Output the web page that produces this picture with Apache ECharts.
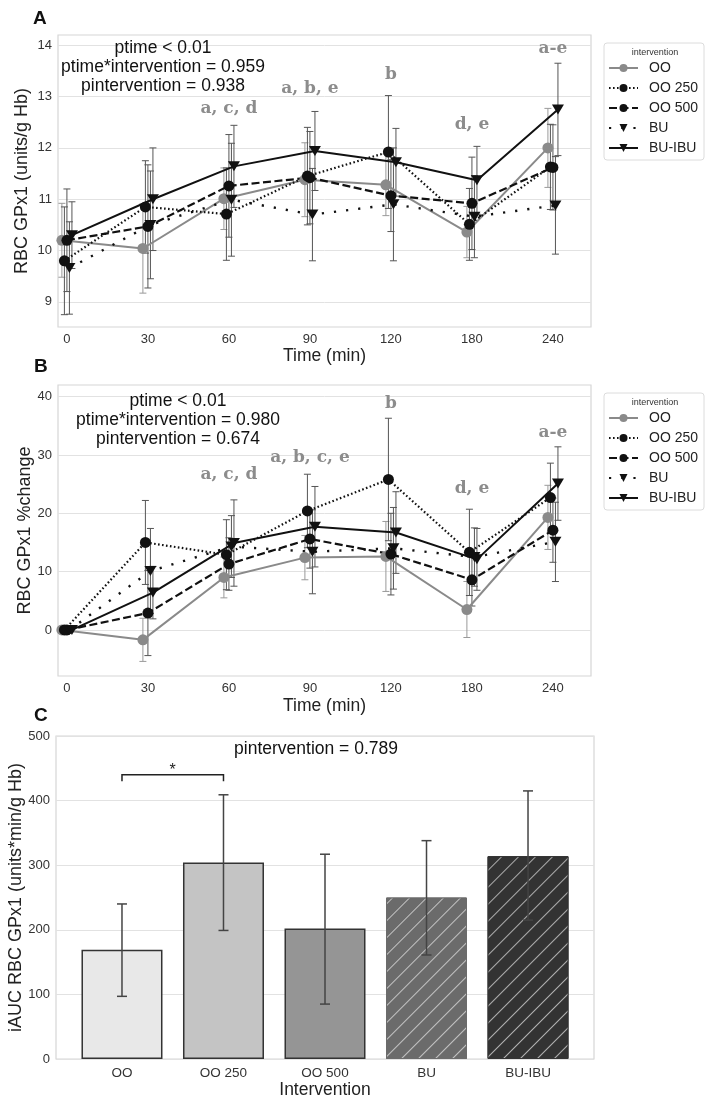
<!DOCTYPE html>
<html><head><meta charset="utf-8">
<script src="https://cdn.jsdelivr.net/npm/echarts@6/dist/echarts.min.js"></script>
<style>html,body{margin:0;padding:0;background:#fff}#c{width:709px;height:1104px}</style>
</head><body><div id="c"></div>
<script>
// ---------------- DATA ----------------
const times = ['0', '30', '60', '90', '120', '180', '240'];
const groups = ['OO', 'OO 250', 'OO 500', 'BU', 'BU-IBU'];

// Panel A: RBC GPx1 (units/g Hb) means and error half-widths
const aOO     = [10.20, 10.04, 11.01, 11.38, 11.28, 10.36, 12.00];
const aOO250  = [9.80, 10.85, 10.71, 11.45, 11.92, 10.51, 11.63];
const aOO500  = [10.20, 10.47, 11.26, 11.42, 11.07, 10.92, 11.62];
const aBU     = [9.66, 10.50, 10.99, 10.70, 10.90, 10.66, 10.88];
const aBUIBU  = [10.30, 11.00, 11.64, 11.94, 11.72, 11.37, 12.75];
const aErrOO    = [0.72, 0.87, 0.60, 0.72, 0.60, 0.50, 0.77];
const aErrOO250 = [1.05, 0.90, 0.90, 0.95, 1.10, 0.70, 0.83];
const aErrOO500 = [1.00, 1.20, 1.00, 0.90, 0.70, 0.90, 0.83];
const aErrBU    = [0.90, 1.05, 1.10, 0.90, 1.10, 0.80, 0.95];
const aErrBUIBU = [0.65, 1.00, 0.80, 0.77, 0.66, 0.66, 0.90];

// Panel B: RBC GPx1 %change
const bOO     = [0, -1.7, 9.0, 12.4, 12.6, 3.5, 19.3];
const bOO250  = [0, 15.0, 12.9, 20.4, 25.8, 13.3, 22.7];
const bOO500  = [0, 2.9, 11.3, 15.6, 13.0, 8.6, 17.1];
const bBU     = [0, 10.1, 14.3, 13.4, 14.0, 12.5, 15.1];
const bBUIBU  = [0, 6.4, 14.9, 17.7, 16.7, 12.1, 25.1];
const bErrOO    = [0, 3.7, 3.5, 3.8, 6.0, 4.8, 5.5];
const bErrOO250 = [0, 7.2, 6.0, 6.3, 10.5, 7.4, 5.9];
const bErrOO500 = [0, 7.3, 4.5, 5.0, 7.0, 4.5, 5.5];
const bErrBU    = [0, 7.3, 5.3, 7.2, 7.0, 5.0, 6.8];
const bErrBUIBU = [0, 4.5, 7.4, 6.9, 7.0, 5.3, 6.3];

// Panel C: iAUC
const cMean = [169, 304, 202, 250, 314];
const cLow  = [97, 199, 85, 161, 215];
const cHigh = [240, 409, 317, 338, 415];

// tick labels
const aTicks = [9, 10, 11, 12, 13, 14];
const bTicks = [0, 10, 20, 30, 40];

// annotations
const annAText = ['a, c, d', 'a, b, e', 'b', 'd, e', 'a-e'];
const annAX = [2, 3, 4, 5, 6];
const annAY = [12.77, 13.16, 13.42, 12.46, 13.94];
const annBText = ['a, c, d', 'a, b, c, e', 'b', 'd, e', 'a-e'];
const annBX = [2, 3, 4, 5, 6];
const annBY = [26.6, 29.5, 38.9, 24.3, 33.8];
const statsA = ['ptime < 0.01', 'ptime*intervention = 0.959', 'pintervention = 0.938'];
const statsB = ['ptime < 0.01', 'ptime*intervention = 0.980', 'pintervention = 0.674'];
const statsC = 'pintervention = 0.789';
const sigPair = [0, 1];
const sigY = [440, 430];

// ---------------- STYLE ----------------
const FF = '"Liberation Sans", Arial, sans-serif';
const groupStyles = [
  {color: '#8a8a8a', type: 'solid', width: 2, symbol: 'circle', size: 11, rot: 0},
  {color: '#111', type: [1.6, 2.4], width: 2.2, symbol: 'circle', size: 11, rot: 0},
  {color: '#111', type: [8, 3.5], width: 2.2, symbol: 'circle', size: 11, rot: 0},
  {color: '#111', type: [2.2, 10], width: 2.4, symbol: 'triangle', size: [12, 10], rot: 180},
  {color: '#111', type: 'solid', width: 2, symbol: 'triangle', size: [12, 10], rot: 180}
];
const errColors = ['#9a9a9a', '#555', '#555', '#555', '#555'];
const dodge = [-0.062, -0.031, 0, 0.031, 0.062];
const barColors = ['#e8e8e8', '#c4c4c4', '#959595', '#6b6b6b', '#333333'];

const aMeans = [aOO, aOO250, aOO500, aBU, aBUIBU];
const aErrs = [aErrOO, aErrOO250, aErrOO500, aErrBU, aErrBUIBU];
const bMeans = [bOO, bOO250, bOO500, bBU, bBUIBU];
const bErrs = [bErrOO, bErrOO250, bErrOO500, bErrBU, bErrBUIBU];

function lineSeries(panel, gi, means) {
  const st = groupStyles[gi];
  return {
    type: 'line', name: groups[gi], xAxisIndex: panel, yAxisIndex: panel,
    data: means.map((v, i) => [i + dodge[gi], v]),
    symbol: st.symbol, symbolSize: st.size, symbolRotate: st.rot,
    lineStyle: {color: st.color, width: st.width, type: st.type},
    itemStyle: {color: st.color},
    z: 3
  };
}
function errSeries(panel, gi, means, errs) {
  const col = errColors[gi];
  return {
    type: 'custom', name: 'err' + panel + '_' + gi, xAxisIndex: panel, yAxisIndex: panel,
    data: means.map((v, i) => [i + dodge[gi], v, errs[i]]),
    encode: {x: 0, y: 1}, z: 2, silent: true,
    renderItem: function (params, api) {
      const x = api.value(0), m = api.value(1), e = api.value(2);
      if (!e) return {type: 'group', children: []};
      const t = api.coord([x, m + e]), b = api.coord([x, m - e]);
      const w = 3.5, s = {stroke: col, lineWidth: 1};
      return {type: 'group', children: [
        {type: 'line', shape: {x1: t[0], y1: t[1], x2: b[0], y2: b[1]}, style: s},
        {type: 'line', shape: {x1: t[0] - w, y1: t[1], x2: t[0] + w, y2: t[1]}, style: s},
        {type: 'line', shape: {x1: b[0] - w, y1: b[1], x2: b[0] + w, y2: b[1]}, style: s}
      ]};
    }
  };
}
function annSeries(panel, xs, ys, texts) {
  return {
    type: 'custom', name: 'ann' + panel, xAxisIndex: panel, yAxisIndex: panel,
    data: xs.map((x, i) => [x, ys[i], i]), encode: {x: 0, y: 1}, silent: true, z: 5,
    renderItem: function (params, api) {
      const p = api.coord([api.value(0), api.value(1)]);
      return {type: 'text', x: p[0], y: p[1], style: {text: texts[api.value(2)], textAlign: 'center',
        textVerticalAlign: 'middle', fontFamily: '"DejaVu Serif", serif', fontWeight: 'bold', fontSize: 17, fill: '#8c8c8c'}};
    }
  };
}

const series = [];
for (let g = 0; g < 5; g++) series.push(errSeries(0, g, aMeans[g], aErrs[g]));
for (let g = 0; g < 5; g++) series.push(lineSeries(0, g, aMeans[g]));
for (let g = 0; g < 5; g++) series.push(errSeries(1, g, bMeans[g], bErrs[g]));
for (let g = 0; g < 5; g++) series.push(lineSeries(1, g, bMeans[g]));
series.push(annSeries(0, annAX, annAY, annAText));
series.push(annSeries(1, annBX, annBY, annBText));

// Panel C bars
series.push({
  type: 'bar', name: 'iAUC', xAxisIndex: 2, yAxisIndex: 2, barWidth: 81,
  data: cMean.map((v, i) => ({
    value: [i, v],
    itemStyle: i < 3 ? {color: barColors[i], borderColor: '#333', borderWidth: 1.5}
      : {color: barColors[i], borderColor: barColors[i], borderWidth: 1,
         decal: {symbol: 'rect', symbolSize: 1, dashArrayX: [[1, 0]], dashArrayY: [1, 10.5],
                 rotation: -Math.PI / 4, color: 'rgba(255,255,255,0.6)'}}
  })),
  z: 2
});
series.push({
  type: 'custom', name: 'errC', xAxisIndex: 2, yAxisIndex: 2,
  data: cMean.map((v, i) => [i, cLow[i], cHigh[i]]), encode: {x: 0, y: [1, 2]}, z: 4, silent: true,
  renderItem: function (params, api) {
    const x = api.value(0);
    const t = api.coord([x, api.value(2)]), b = api.coord([x, api.value(1)]);
    const w = 5, s = {stroke: '#444', lineWidth: 1.5};
    return {type: 'group', children: [
      {type: 'line', shape: {x1: t[0], y1: t[1], x2: b[0], y2: b[1]}, style: s},
      {type: 'line', shape: {x1: t[0] - w, y1: t[1], x2: t[0] + w, y2: t[1]}, style: s},
      {type: 'line', shape: {x1: b[0] - w, y1: b[1], x2: b[0] + w, y2: b[1]}, style: s}
    ]};
  }
});
series.push({
  type: 'custom', name: 'sig', xAxisIndex: 2, yAxisIndex: 2,
  data: [[sigPair[0], sigPair[1], sigY[0], sigY[1]]], encode: {x: [0, 1], y: [2, 3]}, z: 5, silent: true,
  renderItem: function (params, api) {
    const x0 = api.value(0), x1 = api.value(1), yt = api.value(2), yb = api.value(3);
    const a = api.coord([x0, yb]), b = api.coord([x0, yt]), c = api.coord([x1, yt]), d = api.coord([x1, yb]);
    const m = api.coord([(x0 + x1) / 2, yt]);
    return {type: 'group', children: [
      {type: 'polyline', shape: {points: [a, b, c, d]}, style: {stroke: '#222', lineWidth: 1.5, fill: null}},
      {type: 'text', x: m[0], y: m[1] - 4, style: {text: '*', textAlign: 'center', textVerticalAlign: 'middle',
        fontSize: 16, fontFamily: FF, fill: '#222'}}
    ]};
  }
});

const gridBase = {show: true, borderColor: '#d6d6d6', borderWidth: 1.2, containLabel: false, outerBoundsMode: 'none'};
const splitStyle = {show: true, lineStyle: {color: '#e2e2e2', width: 1}};
const tickLbl = {color: '#333', fontSize: 13, fontFamily: FF};
const nameStyle = {color: '#222', fontSize: 18, fontFamily: FF};

function timeXAxis(gi, gap) {
  return {
    type: 'value', gridIndex: gi, min: -0.11, max: 6.47,
    axisLine: {show: false}, axisTick: {show: false, customValues: [0, 1, 2, 3, 4, 5, 6]}, splitLine: {show: false},
    axisLabel: Object.assign({customValues: [0, 1, 2, 3, 4, 5, 6], formatter: v => times[Math.round(v)], margin: 6}, tickLbl),
    name: 'Time (min)', nameLocation: 'middle', nameGap: gap, nameMoveOverlap: false,
    nameTextStyle: Object.assign({}, nameStyle, {fontSize: 17.5})
  };
}

const legendBase = {
  data: groups, orient: 'vertical', left: 604, padding: [18, 6, 5, 4],
  itemWidth: 29, itemHeight: 10, itemGap: 6,
  textStyle: {fontSize: 14, lineHeight: 14, color: '#222', fontFamily: FF, padding: [0, 0, 0, 6]},
  borderColor: '#dcdcdc', borderWidth: 1, borderRadius: 3, backgroundColor: '#fff'
};

const option = {
  animation: false,
  backgroundColor: '#fff',
  grid: [
    Object.assign({left: 58, top: 35, width: 533, height: 292}, gridBase),
    Object.assign({left: 58, top: 385, width: 533, height: 291}, gridBase),
    Object.assign({left: 56, top: 736, width: 538, height: 323}, gridBase)
  ],
  xAxis: [
    timeXAxis(0, 20),
    timeXAxis(1, 21),
    {
      type: 'value', gridIndex: 2, min: -0.65, max: 4.65,
      axisLine: {show: false}, axisTick: {show: false, customValues: [0, 1, 2, 3, 4]}, splitLine: {show: false},
      axisLabel: Object.assign({customValues: [0, 1, 2, 3, 4], formatter: v => groups[Math.round(v)], margin: 7}, tickLbl, {fontSize: 13.5}),
      name: 'Intervention', nameLocation: 'middle', nameGap: 22, nameMoveOverlap: false,
      nameTextStyle: Object.assign({}, nameStyle, {fontSize: 17.5})
    }
  ],
  yAxis: [
    {
      type: 'value', gridIndex: 0, min: 8.51, max: 14.2,
      axisLine: {show: false}, axisTick: {show: false, customValues: aTicks},
      axisLabel: Object.assign({customValues: aTicks, margin: 6}, tickLbl),
      splitLine: splitStyle,
      name: 'RBC GPx1 (units/g Hb)', nameLocation: 'middle', nameGap: 27, nameMoveOverlap: false, nameTextStyle: nameStyle
    },
    {
      type: 'value', gridIndex: 1, min: -7.9, max: 42,
      axisLine: {show: false}, axisTick: {show: false, customValues: bTicks},
      axisLabel: Object.assign({customValues: bTicks, margin: 6}, tickLbl),
      splitLine: splitStyle,
      name: 'RBC GPx1 %change', nameLocation: 'middle', nameGap: 24, nameMoveOverlap: false, nameTextStyle: nameStyle
    },
    {
      type: 'value', gridIndex: 2, min: 0, max: 500, interval: 100,
      axisLine: {show: false}, axisTick: {show: false},
      axisLabel: Object.assign({margin: 6}, tickLbl),
      splitLine: splitStyle,
      name: 'iAUC RBC GPx1 (units*min/g Hb)', nameLocation: 'middle', nameGap: 30.5, nameMoveOverlap: false, nameTextStyle: nameStyle
    }
  ],
  legend: [
    Object.assign({top: 43}, legendBase),
    Object.assign({top: 393}, legendBase)
  ],
  graphic: [
    {type: 'text', left: 33, top: 9, style: {text: 'A', fontSize: 19, fontWeight: 'bold', fontFamily: FF, fill: '#111'}},
    {type: 'text', left: 34, top: 357, style: {text: 'B', fontSize: 19, fontWeight: 'bold', fontFamily: FF, fill: '#111'}},
    {type: 'text', left: 34, top: 706, style: {text: 'C', fontSize: 19, fontWeight: 'bold', fontFamily: FF, fill: '#111'}},
    {type: 'text', x: 163, y: 38.5, z: 10, style: {text: statsA.join('\n'), textAlign: 'center', textVerticalAlign: 'top',
      fontSize: 17.5, lineHeight: 19, fontFamily: FF, fill: '#111'}},
    {type: 'text', x: 178, y: 391.5, z: 10, style: {text: statsB.join('\n'), textAlign: 'center', textVerticalAlign: 'top',
      fontSize: 17.5, lineHeight: 19, fontFamily: FF, fill: '#111'}},
    {type: 'text', x: 316, y: 749, z: 10, style: {text: statsC, textAlign: 'center', textVerticalAlign: 'middle',
      fontSize: 17.5, fontFamily: FF, fill: '#111'}},
    {type: 'text', x: 655, y: 53, z: 100, style: {text: 'intervention', textAlign: 'center', textVerticalAlign: 'middle',
      fontSize: 9, fontFamily: FF, fill: '#333'}},
    {type: 'text', x: 655, y: 403, z: 100, style: {text: 'intervention', textAlign: 'center', textVerticalAlign: 'middle',
      fontSize: 9, fontFamily: FF, fill: '#333'}}
  ],
  series: series
};

const chart = echarts.init(document.getElementById('c'), null, {renderer: 'canvas'});
chart.setOption(option);
</script>
</body></html>
